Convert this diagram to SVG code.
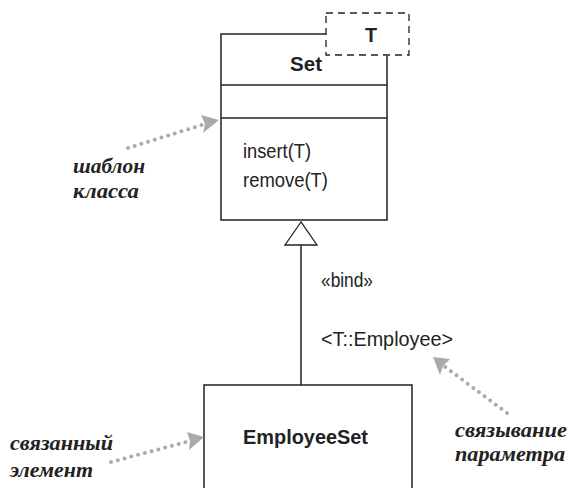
<svg xmlns="http://www.w3.org/2000/svg" width="572" height="488" viewBox="0 0 572 488">
<style>
.ln{fill:none;stroke:#222;stroke-width:1.5}
.t{font-family:"Liberation Sans",Arial,sans-serif;font-size:21px;fill:#222}
.b{font-weight:bold}
.note{font-family:"Liberation Serif",serif;font-style:italic;font-weight:bold;font-size:21px;fill:#222}
.dot{fill:none;stroke:#aaa;stroke-width:4;stroke-linecap:round;stroke-dasharray:0 7}
</style>
<rect width="572" height="488" fill="#fff"/>
<g id="set">
<path class="ln" d="M326,34 H221 V220 H387 V56"/>
<line class="ln" x1="221" y1="85" x2="387" y2="85"/>
<line class="ln" x1="221" y1="118" x2="387" y2="118"/>
<text class="t b" x="290" y="71" textLength="32" lengthAdjust="spacingAndGlyphs">Set</text>
<text class="t" x="243" y="158" textLength="68" lengthAdjust="spacingAndGlyphs">insert(T)</text>
<text class="t" x="243" y="187" textLength="85" lengthAdjust="spacingAndGlyphs">remove(T)</text>
</g>
<g id="param">
<rect x="326" y="13" width="83" height="42" fill="none" stroke="#222" stroke-width="1.3" stroke-dasharray="7 5"/>
<text class="t b" x="365" y="42" textLength="12" lengthAdjust="spacingAndGlyphs">T</text>
</g>
<g id="employeeset">
<path class="ln" d="M204,490 V385 H412 V490"/>
<text class="t b" x="243" y="444" textLength="125" lengthAdjust="spacingAndGlyphs">EmployeeSet</text>
</g>
<g id="connectors">
<line class="ln" x1="301" y1="245" x2="301" y2="385"/>
<path d="M301,222 L285,245 H317 Z" fill="#fff" stroke="#222" stroke-width="1.3"/>
<text class="t" x="321" y="287" textLength="52" lengthAdjust="spacingAndGlyphs">«bind»</text>
<text class="t" x="321" y="346" textLength="132" lengthAdjust="spacingAndGlyphs">&lt;T::Employee&gt;</text>
</g>
<g id="notes">
<path class="dot" d="M128,148 L205,124"/>
<path d="M219,120 L201,115 L205,124 L203,133 Z" fill="#aaa"/>
<text class="note" x="73" y="173" textLength="72" lengthAdjust="spacingAndGlyphs">шаблон</text>
<text class="note" x="73" y="198" textLength="66" lengthAdjust="spacingAndGlyphs">класса</text>
<path class="dot" d="M111,462 L190,441"/>
<path d="M204,437 L187,432 L190,441 L189,450 Z" fill="#aaa"/>
<text class="note" x="10" y="450" textLength="103" lengthAdjust="spacingAndGlyphs">связанный</text>
<text class="note" x="10" y="477" textLength="83" lengthAdjust="spacingAndGlyphs">элемент</text>
<path class="dot" d="M507,413 L444,366"/>
<path d="M433,357 L450,359 L443,366 L440,375 Z" fill="#aaa"/>
<text class="note" x="455" y="437" textLength="112" lengthAdjust="spacingAndGlyphs">связывание</text>
<text class="note" x="455" y="461" textLength="110" lengthAdjust="spacingAndGlyphs">параметра</text>
</g>
</svg>
